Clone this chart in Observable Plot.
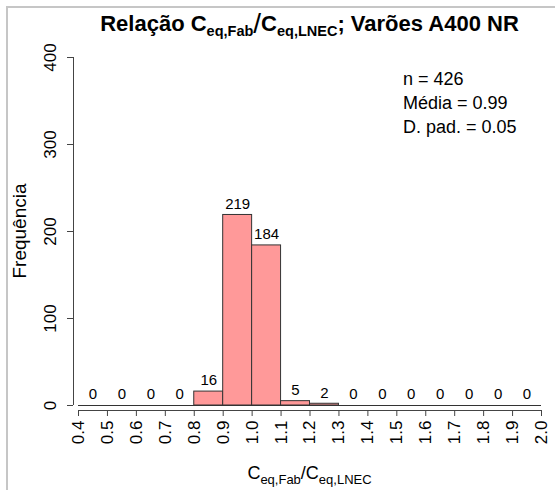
<!DOCTYPE html>
<html><head><meta charset="utf-8">
<script src="https://cdn.jsdelivr.net/npm/d3@7"></script>
<script src="https://cdn.jsdelivr.net/npm/@observablehq/plot@0.6"></script>
<style>
body{margin:0;background:#fff;font-family:"Liberation Sans",Arial,Helvetica,sans-serif;}
#wrap{position:relative;width:555px;height:490px;overflow:hidden;background:#fff;}
#border{position:absolute;left:6px;top:6px;width:700px;height:700px;border-left:2px solid #c6c6c6;border-top:2px solid #c6c6c6;}
#chart{position:absolute;left:0;top:0;}
#title{position:absolute;left:78px;width:463px;top:8px;text-align:center;font-weight:bold;font-size:22px;color:#000;white-space:nowrap;}
#title sub{font-size:14.5px;vertical-align:-5px;}
#title .sl{font-weight:normal;font-size:28px;vertical-align:-2px;}
#xlab{position:absolute;left:78px;width:463px;top:463px;text-align:center;font-size:18px;color:#000;white-space:nowrap;}
#xlab sub{font-size:13px;vertical-align:-5px;}
#stats{position:absolute;left:403px;top:67px;font-size:18px;line-height:24px;color:#000;}
#ylab{position:absolute;left:20px;top:231px;font-size:19px;color:#000;white-space:nowrap;transform:translate(-50%,-50%) rotate(-90deg);}
</style>
</head><body>
<div id="wrap">
<div id="border"></div>
<div id="chart"></div>
<div id="title">Relação C<sub>eq,Fab</sub><span class="sl">/</span>C<sub>eq,LNEC</sub>; Varões A400 NR</div>
<div id="xlab">C<sub>eq,Fab</sub>/C<sub>eq,LNEC</sub></div>
<div id="ylab">Frequência</div>
<div id="stats">n = 426<br>Média = 0.99<br>D. pad. = 0.05</div>
</div>
<script>
const binStarts = [0.4,0.5,0.6,0.7,0.8,0.9,1.0,1.1,1.2,1.3,1.4,1.5,1.6,1.7,1.8,1.9];
const binWidth = 0.1;
const counts = [0,0,0,0,16,219,184,5,2,0,0,0,0,0,0,0];
const xTicks = [0.4,0.5,0.6,0.7,0.8,0.9,1.0,1.1,1.2,1.3,1.4,1.5,1.6,1.7,1.8,1.9,2.0];
const yTicks = [0,100,200,300,400];

const bins = binStarts.map((s,i)=>({x1:s, x2:+(s+binWidth).toFixed(2), mid:s+binWidth/2, n:counts[i]}));
const xMin = xTicks[0], xMax = xTicks[xTicks.length-1];
const yMin = yTicks[0], yMax = yTicks[yTicks.length-1];

const chart = Plot.plot({
  width: 555, height: 490,
  marginLeft: 73, marginRight: 14, marginTop: 57, marginBottom: 80,
  insetLeft: 5, insetBottom: 5,
  style: {fontFamily: '"Liberation Sans", Arial, Helvetica, sans-serif', fontSize: "17px", color: "#000", background: "transparent", overflow: "visible"},
  x: {domain: [xMin, xMax]},
  y: {domain: [yMin, yMax]},
  marks: [
    Plot.rectY(bins.filter(d=>d.n>0), {x1:"x1", x2:"x2", y1:0, y2:"n", fill:"#ff9999", stroke:"#333", strokeWidth:1, inset:0}),
    Plot.ruleY([yMin], {x1: xMin, x2: xMax, stroke:"#333", strokeWidth:1}),
    Plot.text(bins, {x:"mid", y:"n", text:d=>String(d.n), dy:-11, fontSize:15, fill:"#000"}),
    Plot.ruleY([yMin], {x1: xMin, x2: xMax, dy: 5, stroke:"#444", strokeWidth:1}),
    Plot.ruleX([xMin], {y1: yMin, y2: yMax, dx: -5, stroke:"#444", strokeWidth:1}),
    Plot.axisX({ticks: xTicks, tickFormat: d3.format(".1f"), tickSize: 6, tickPadding: 4, tickRotate: -90, label: null, fontSize: 17, stroke:"#444"}),
    Plot.axisY({ticks: yTicks, tickFormat: d=>String(d), tickSize: 6, tickPadding: 12, tickRotate: -90, label: null, fontSize: 17, stroke:"#444"})
  ]
});
document.getElementById("chart").appendChild(chart);
</script>
</body></html>
